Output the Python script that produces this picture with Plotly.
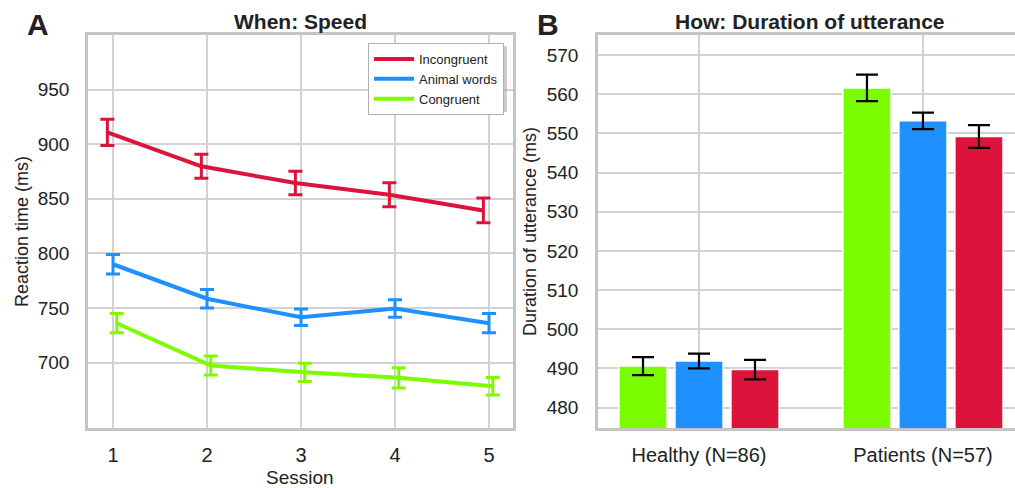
import plotly.graph_objects as go

# ---------------- data ----------------
sessions = [1, 2, 3, 4, 5]
incongruent = [910.8, 879.7, 864.4, 853.7, 839.3]
incongruent_err = [12.0, 11.0, 10.7, 11.0, 11.3]
animal = [790.0, 758.4, 741.4, 749.5, 736.0]
animal_err = [9.0, 8.4, 7.6, 8.0, 8.8]
congruent = [736.0, 697.2, 691.0, 686.0, 678.3]
congruent_err = [8.8, 8.7, 8.3, 9.3, 8.0]

groups = ["Healthy (N=86)", "Patients (N=57)"]
dur_congruent = [490.6, 561.6]
dur_congruent_err = [2.3, 3.4]
dur_animal = [491.9, 553.2]
dur_animal_err = [1.9, 2.1]
dur_incongruent = [489.7, 549.2]
dur_incongruent_err = [2.5, 2.9]

A_yticks = [700, 750, 800, 850, 900, 950]
B_yticks = [480, 490, 500, 510, 520, 530, 540, 550, 560, 570]

RED = "#DC143C"
BLUE = "#1E90FF"
GREEN = "#7CFC00"
FONT = "Liberation Sans, Arial, sans-serif"
GRID = "#d2d2d2"
FRAME = "#c4c4c4"
TXT = "#222222"

W, H = 1015, 488


def px(x):
    return x / W


def py(y):
    return 1 - y / H


fig = go.Figure()

offsets = {"Incongruent": -0.06, "Animal words": 0.0, "Congruent": 0.04}
for name, vals, errs, col in [
    ("Incongruent", incongruent, incongruent_err, RED),
    ("Animal words", animal, animal_err, BLUE),
    ("Congruent", congruent, congruent_err, GREEN),
]:
    fig.add_trace(go.Scatter(
        x=[s + offsets[name] for s in sessions], y=vals, name=name,
        mode="lines", line=dict(color=col, width=4),
        error_y=dict(type="data", array=errs, color=col, thickness=3, width=7),
        xaxis="x", yaxis="y", showlegend=True,
    ))

for name, vals, errs, col in [
    ("Congruent", dur_congruent, dur_congruent_err, GREEN),
    ("Animal words", dur_animal, dur_animal_err, BLUE),
    ("Incongruent", dur_incongruent, dur_incongruent_err, RED),
]:
    fig.add_trace(go.Bar(
        x=[0, 1], y=vals, name=name, marker=dict(color=col, line=dict(color="white", width=1.5)),
        error_y=dict(type="data", array=errs, color="black", thickness=2.2, width=11),
        xaxis="x2", yaxis="y2", showlegend=False,
    ))

ytickfont = dict(family=FONT, size=19, color=TXT)
xtickfont = dict(family=FONT, size=20, color=TXT)

common = dict(showgrid=True, gridcolor=GRID, gridwidth=2, zeroline=False,
              showline=True, linecolor=FRAME, linewidth=2.5,
              ticks="outside", tickcolor="rgba(0,0,0,0)")

fig.update_layout(
    width=W, height=H,
    margin=dict(l=0, r=0, t=0, b=0),
    paper_bgcolor="white", plot_bgcolor="white",
    barmode="group", bargap=0.25, bargroupgap=0.14,
    font=dict(family=FONT, color=TXT),
    xaxis=dict(domain=[px(88), px(513)], range=[0.734, 5.255], tickvals=sessions,
               mirror=True, ticklen=7, tickfont=xtickfont, anchor="y", **common),
    yaxis=dict(domain=[py(428), py(35)], range=[640, 1000], tickvals=A_yticks,
               mirror=True, ticklen=12, tickfont=ytickfont, anchor="x", **common),
    xaxis2=dict(domain=[px(598), 1.0], range=[-0.451, 1.411], tickvals=[0, 1], ticktext=groups,
                mirror=True, ticklen=7, tickfont=xtickfont, anchor="y2", **common),
    yaxis2=dict(domain=[py(428), py(35)], range=[474.8, 575.1], tickvals=B_yticks,
                mirror=False, ticklen=13, tickfont=ytickfont, anchor="x2", **common),
    legend=dict(x=px(368), y=py(43), xanchor="left", yanchor="top",
                bgcolor="white", bordercolor="#b0b0b0", borderwidth=1,
                font=dict(family=FONT, size=13, color=TXT),
                itemwidth=40, tracegroupgap=0),
)

# legend shadow
fig.add_shape(type="rect", xref="paper", yref="paper",
              x0=px(371), x1=px(507), y0=py(112), y1=py(46),
              fillcolor="#a8a8a8", line=dict(width=0), layer="above", opacity=0.6)

ann = []
ann.append(dict(text="<b>A</b>", x=px(38), y=py(24), font=dict(size=30, color=TXT)))
ann.append(dict(text="<b>B</b>", x=px(548), y=py(24), font=dict(size=30, color=TXT)))
ann.append(dict(text="<b>When: Speed</b>", x=px(300), y=py(21), font=dict(size=21, color=TXT)))
ann.append(dict(text="<b>How: Duration of utterance</b>", x=px(810), y=py(21), font=dict(size=21, color=TXT)))
ann.append(dict(text="Reaction time (ms)", x=px(22), y=py(232), textangle=-90, font=dict(size=18, color=TXT)))
ann.append(dict(text="Duration of utterance (ms)", x=px(530), y=py(232), textangle=-90, font=dict(size=18, color=TXT)))
ann.append(dict(text="Session", x=px(300), y=py(477), font=dict(size=19, color=TXT)))
for a in ann:
    a.update(xref="paper", yref="paper", xanchor="center", yanchor="middle", showarrow=False)
    a["font"]["family"] = FONT
fig.update_layout(annotations=ann)

fig.write_html("out.html", config={"displayModeBar": False},
               post_script="document.body.style.margin='0px';document.body.style.overflow='hidden';")
